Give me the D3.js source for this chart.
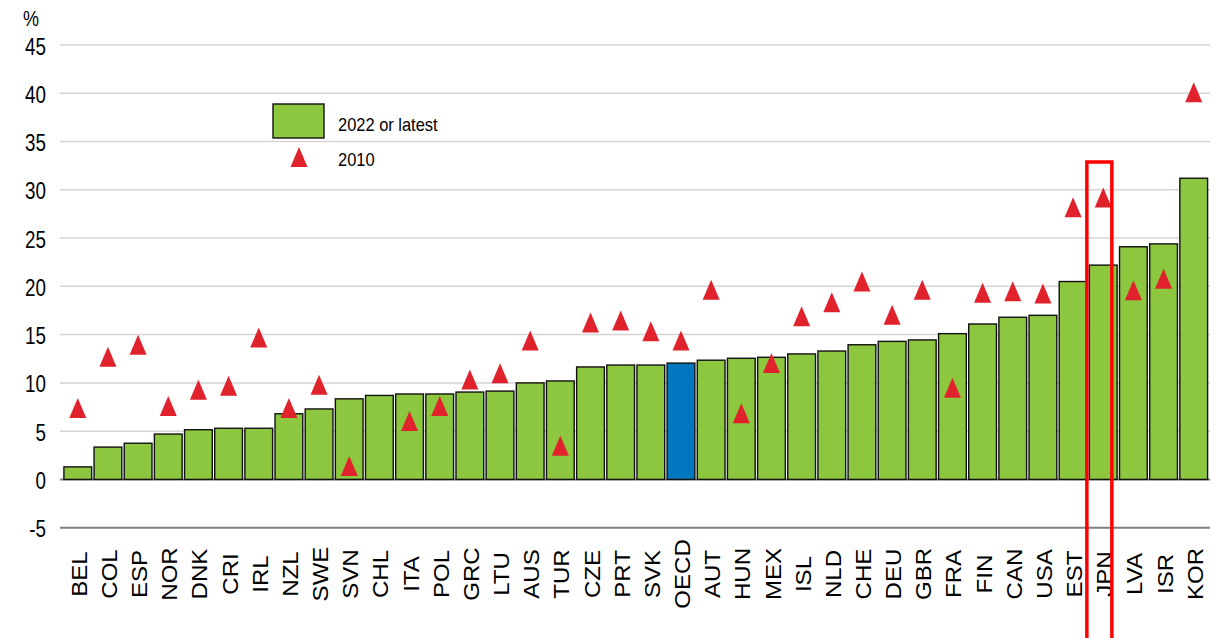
<!DOCTYPE html>
<html>
<head>
<meta charset="utf-8">
<script src="https://cdn.jsdelivr.net/npm/d3@7"></script>
<style>
  html, body { margin: 0; padding: 0; background: #fff; }
  svg { display: block; font-family: "Liberation Sans", Arial, sans-serif; }
</style>
</head>
<body>
<svg id="chart" width="1223" height="638"></svg>
<script>
const categories = ["BEL","COL","ESP","NOR","DNK","CRI","IRL","NZL","SWE","SVN","CHL","ITA","POL","GRC","LTU","AUS","TUR","CZE","PRT","SVK","OECD","AUT","HUN","MEX","ISL","NLD","CHE","DEU","GBR","FRA","FIN","CAN","USA","EST","JPN","LVA","ISR","KOR"];
const latest = [1.3,3.35,3.75,4.7,5.15,5.3,5.3,6.8,7.3,8.35,8.7,8.85,8.85,9.05,9.15,10.0,10.2,11.65,11.85,11.85,12.05,12.35,12.55,12.65,13.0,13.3,13.95,14.3,14.45,15.1,16.1,16.8,17.0,20.5,22.2,24.1,24.4,31.2];
const y2010 = [7.4,12.7,13.95,7.6,9.3,9.7,14.7,7.4,9.8,1.4,null,6.05,7.6,10.35,11.0,14.4,3.5,16.25,16.45,15.35,14.4,19.65,6.85,12.05,16.9,18.35,20.5,17.05,19.65,9.5,19.35,19.5,19.25,28.2,29.2,19.6,20.8,40.1];
const yTicks = [-5,0,5,10,15,20,25,30,35,40,45];
const legendLabels = ["2022 or latest","2010"];
const highlight = "JPN";
const aggregate = "OECD";

const svg = d3.select("#chart");
const x = d3.scaleBand().domain(categories).range([62.7, 1208.8]).paddingInner(0.08).paddingOuter(0.04);
const y = d3.scaleLinear().domain([-5, 45]).range([527.7, 45]);

const green = "#8DC63F", blue = "#0077BE", red = "#E0222C";

// gridlines
svg.append("g").selectAll("line").data(yTicks).join("line")
  .attr("x1", 60).attr("x2", 1210)
  .attr("y1", d => y(d)).attr("y2", d => y(d))
  .attr("stroke", d => (d === 0 || d === -5) ? "#808080" : "#d4d4d4")
  .attr("stroke-width", d => (d === 0 || d === -5) ? 2 : 1.5);

// y tick labels
svg.append("g").selectAll("text").data(yTicks).join("text")
  .attr("transform", d => `translate(46,${y(d) + 9.5}) scale(0.8,1)`)
  .attr("text-anchor", "end")
  .attr("font-size", 23.5)
  .attr("fill", "#000")
  .text(d => d);

svg.append("text")
  .attr("transform", "translate(23,25.5) scale(0.8,1)")
  .attr("font-size", 22.5)
  .text("%");

// bars
svg.append("g").selectAll("rect").data(categories).join("rect")
  .attr("x", d => x(d))
  .attr("width", x.bandwidth())
  .attr("y", (d, i) => y(Math.max(0, latest[i])))
  .attr("height", (d, i) => Math.abs(y(latest[i]) - y(0)))
  .attr("fill", d => d === aggregate ? blue : green)
  .attr("stroke", "#111")
  .attr("stroke-width", 1.4);

// triangles
const tri = "M0,-10L8.5,10L-8.5,10Z";
svg.append("g").selectAll("path")
  .data(categories.map((c, i) => ({c, v: y2010[i]})).filter(d => d.v != null))
  .join("path")
  .attr("d", tri)
  .attr("transform", d => `translate(${x(d.c) + x.bandwidth() / 2},${y(d.v)})`)
  .attr("fill", red);

// category labels
svg.append("g").selectAll("text").data(categories).join("text")
  .attr("transform", d => `translate(${x(d) + x.bandwidth() / 2 + 1.5},574) rotate(-90) scale(1.12,1)`)
  .attr("text-anchor", "middle")
  .attr("dominant-baseline", "central")
  .attr("font-size", 21.5)
  .attr("fill", "#000")
  .text(d => d);

// highlight box
const hx = x(highlight);
svg.append("rect")
  .attr("x", hx - 2.5).attr("y", 162)
  .attr("width", 25).attr("height", 500)
  .attr("fill", "none").attr("stroke", "#FF0000").attr("stroke-width", 3.5);

// legend
const lg = svg.append("g");
lg.append("rect").attr("x", 273).attr("y", 104).attr("width", 51).attr("height", 34)
  .attr("fill", green).attr("stroke", "#111").attr("stroke-width", 1.4);
lg.append("path").attr("d", tri).attr("transform", "translate(299,157)").attr("fill", red);
lg.selectAll("text.lbl").data(legendLabels).join("text")
  .attr("class", "lbl")
  .attr("transform", (d, i) => `translate(338,${i === 0 ? 131 : 166}) scale(0.94,1)`)
  .attr("font-size", 17.5)
  .attr("fill", "#000")
  .text(d => d);
</script>
</body>
</html>
